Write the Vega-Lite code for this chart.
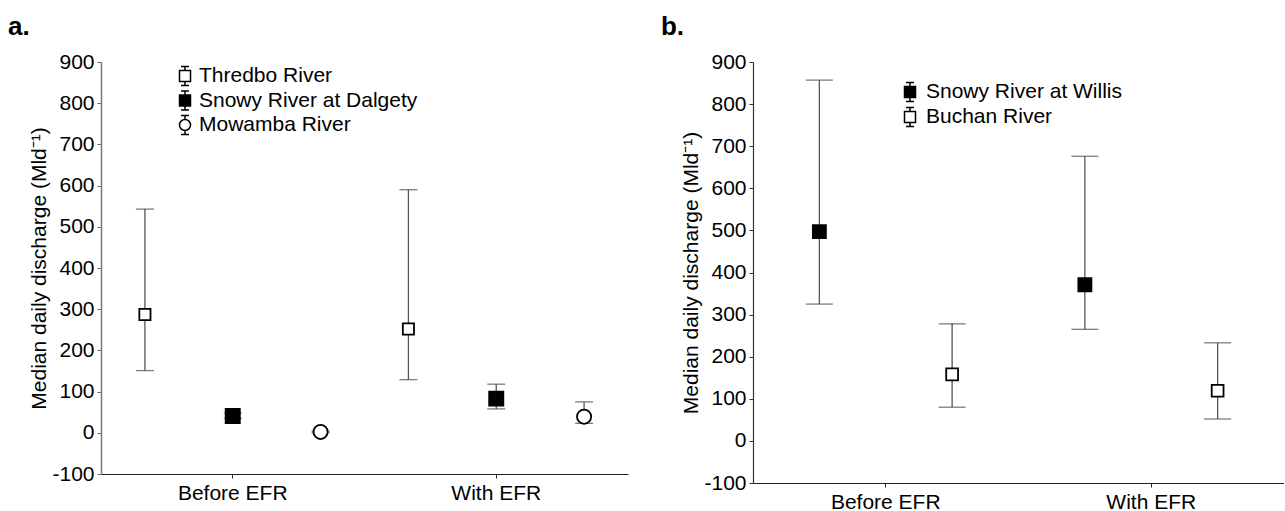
{
  "$schema": "https://vega.github.io/schema/vega-lite/v6.json",
  "padding": {"left": 7, "top": 14, "right": 0, "bottom": 0},
  "spacing": 32,
  "config": {
    "font": "Liberation Sans",
    "view": {"stroke": null},
    "axis": {
      "labelFont": "Liberation Sans", "labelFontSize": 21, "labelColor": "black",
      "titleFont": "Liberation Sans", "titleFontSize": 21, "titleFontWeight": "normal", "titleColor": "black",
      "grid": false, "tickSize": 4, "labelPadding": 3, "tickColor": "#666", "domainColor": "#777", "domainWidth": 1.5
    },
    "title": {"font": "Liberation Sans", "fontSize": 26, "fontWeight": "bold", "anchor": "start", "color": "black"}
  },
  "resolve": {
    "scale": {"shape": "independent", "fill": "independent", "stroke": "independent", "xOffset": "independent"},
    "legend": {"shape": "independent", "fill": "independent", "stroke": "independent"}
  },
  "hconcat": [
    {
      "width": 527, "height": 412,
      "title": {"text": "a.", "dx": -21, "offset": 11},
      "data": {"values": [
        {"period": "Before EFR", "river": "Thredbo River", "median": 287, "lo": 151, "hi": 543},
        {"period": "Before EFR", "river": "Snowy River at Dalgety", "median": 41, "lo": 35, "hi": 48},
        {"period": "Before EFR", "river": "Mowamba River", "median": 2, "lo": 0, "hi": 4},
        {"period": "With EFR", "river": "Thredbo River", "median": 252, "lo": 129, "hi": 590},
        {"period": "With EFR", "river": "Snowy River at Dalgety", "median": 83, "lo": 58, "hi": 118},
        {"period": "With EFR", "river": "Mowamba River", "median": 39, "lo": 23, "hi": 75}
      ]},
      "encoding": {
        "x": {"field": "period", "type": "nominal",
          "scale": {"domain": ["Before EFR", "With EFR"], "paddingInner": 0, "paddingOuter": 0},
          "axis": {"title": null, "labelAngle": 0, "labelPadding": 4, "domainColor": "#222", "tickColor": "#222", "domainWidth": 1.2}},
        "xOffset": {"field": "river", "type": "nominal",
          "scale": {"domain": ["Thredbo River", "Snowy River at Dalgety", "Mowamba River"], "paddingInner": 0, "paddingOuter": 0}}
      },
      "layer": [
        {
          "mark": {"type": "rule", "color": "#555", "strokeWidth": 1.3},
          "encoding": {
            "y": {"field": "lo", "type": "quantitative", "title": "Median daily discharge (Mld⁻¹)",
              "scale": {"domain": [-100, 900], "nice": false, "zero": false},
              "axis": {"values": [-100, 0, 100, 200, 300, 400, 500, 600, 700, 800, 900], "titlePadding": 2,
                "labelExpr": "replace(datum.label, '−', '-')"}},
            "y2": {"field": "hi"}
          }
        },
        {
          "mark": {"type": "tick", "color": "#444", "size": 18, "thickness": 1.3},
          "encoding": {"y": {"field": "lo", "type": "quantitative", "title": "Median daily discharge (Mld⁻¹)"}}
        },
        {
          "mark": {"type": "tick", "color": "#444", "size": 18, "thickness": 1.3},
          "encoding": {"y": {"field": "hi", "type": "quantitative", "title": "Median daily discharge (Mld⁻¹)"}}
        },
        {
          "mark": {"type": "point", "filled": true, "stroke": "black", "strokeWidth": 1.8, "opacity": 1},
          "encoding": {
            "y": {"field": "median", "type": "quantitative", "title": "Median daily discharge (Mld⁻¹)"},
            "shape": {"condition": {"test": "datum.river === 'Mowamba River'", "value": "circle"}, "value": "square"},
            "fill": {"condition": {"test": "datum.river === 'Snowy River at Dalgety'", "value": "black"}, "value": "white"},
            "size": {"condition": {"test": "datum.river === 'Thredbo River'", "value": 125}, "value": 200}
          }
        },
        {
          "mark": {"type": "point", "filled": false, "strokeWidth": 1.5, "opacity": 0},
          "encoding": {
            "y": {"field": "median", "type": "quantitative", "title": "Median daily discharge (Mld⁻¹)"},
            "shape": {"field": "river", "type": "nominal",
              "scale": {"domain": ["Thredbo River", "Snowy River at Dalgety", "Mowamba River"],
                "range": [
                  "M-0.4,-0.95L0.4,-0.95M0,-0.95L0,-0.55M-0.55,-0.55L0.55,-0.55L0.55,0.55L-0.55,0.55ZM0,0.55L0,0.95M-0.4,0.95L0.4,0.95",
                  "M-0.4,-0.95L0.4,-0.95M0,-0.95L0,-0.55M-0.55,-0.55L0.55,-0.55L0.55,0.55L-0.55,0.55ZM0,0.55L0,0.95M-0.4,0.95L0.4,0.95",
                  "M-0.4,-0.95L0.4,-0.95M0,-0.95L0,-0.55M-0.55,0A0.55,0.55,0,1,0,0.55,0A0.55,0.55,0,1,0,-0.55,0ZM0,0.55L0,0.95M-0.4,0.95L0.4,0.95"
                ]},
              "legend": {
                "title": null, "orient": "none", "legendX": 73, "legendY": 3, "padding": 0,
                "symbolSize": 400, "labelFont": "Liberation Sans", "labelFontSize": 21, "labelColor": "black",
                "labelLimit": 400, "labelOffset": 3, "rowPadding": -1.5,
                "symbolStrokeColor": "black", "symbolStrokeWidth": 1.5, "symbolOpacity": 1
              }},
            "fill": {"field": "river", "type": "nominal",
              "scale": {"domain": ["Thredbo River", "Snowy River at Dalgety", "Mowamba River"], "range": ["white", "black", "white"]},
              "legend": {
                "title": null, "orient": "none", "legendX": 73, "legendY": 3, "padding": 0,
                "symbolSize": 400, "labelFont": "Liberation Sans", "labelFontSize": 21, "labelColor": "black",
                "labelLimit": 400, "labelOffset": 3, "rowPadding": -1.5,
                "symbolStrokeColor": "black", "symbolStrokeWidth": 1.5, "symbolOpacity": 1
              }},
            "stroke": {"field": "river", "type": "nominal",
              "scale": {"domain": ["Thredbo River", "Snowy River at Dalgety", "Mowamba River"], "range": ["black", "black", "black"]},
              "legend": {
                "title": null, "orient": "none", "legendX": 73, "legendY": 3, "padding": 0,
                "symbolSize": 400, "labelFont": "Liberation Sans", "labelFontSize": 21, "labelColor": "black",
                "labelLimit": 400, "labelOffset": 3, "rowPadding": -1.5,
                "symbolStrokeColor": "black", "symbolStrokeWidth": 1.5, "symbolOpacity": 1
              }}
          }
        }
      ]
    },
    {
      "width": 531, "height": 421,
      "title": {"text": "b.", "dx": -20, "offset": 11},
      "data": {"values": [
        {"period": "Before EFR", "river": "Snowy River at Willis", "median": 497, "lo": 325, "hi": 857},
        {"period": "Before EFR", "river": "Buchan River", "median": 158, "lo": 80, "hi": 278},
        {"period": "With EFR", "river": "Snowy River at Willis", "median": 371, "lo": 265, "hi": 676},
        {"period": "With EFR", "river": "Buchan River", "median": 119, "lo": 52, "hi": 233}
      ]},
      "encoding": {
        "x": {"field": "period", "type": "nominal",
          "scale": {"domain": ["Before EFR", "With EFR"], "paddingInner": 0, "paddingOuter": 0},
          "axis": {"title": null, "labelAngle": 0, "labelPadding": 4, "domainColor": "#222", "tickColor": "#222", "domainWidth": 1.2}},
        "xOffset": {"field": "river", "type": "nominal",
          "scale": {"domain": ["Snowy River at Willis", "Buchan River"], "paddingInner": 0, "paddingOuter": 0}}
      },
      "layer": [
        {
          "mark": {"type": "rule", "color": "#555", "strokeWidth": 1.3},
          "encoding": {
            "y": {"field": "lo", "type": "quantitative", "title": "Median daily discharge (Mld⁻¹)",
              "scale": {"domain": [-100, 900], "nice": false, "zero": false},
              "axis": {"values": [-100, 0, 100, 200, 300, 400, 500, 600, 700, 800, 900], "titlePadding": 2,
                "labelExpr": "replace(datum.label, '−', '-')", "domainColor": "#333", "tickColor": "#333", "domainWidth": 1.2}},
            "y2": {"field": "hi"}
          }
        },
        {
          "mark": {"type": "tick", "color": "#444", "size": 27, "thickness": 1.3},
          "encoding": {"y": {"field": "lo", "type": "quantitative", "title": "Median daily discharge (Mld⁻¹)"}}
        },
        {
          "mark": {"type": "tick", "color": "#444", "size": 27, "thickness": 1.3},
          "encoding": {"y": {"field": "hi", "type": "quantitative", "title": "Median daily discharge (Mld⁻¹)"}}
        },
        {
          "mark": {"type": "point", "filled": true, "shape": "square", "stroke": "black", "strokeWidth": 1.8, "opacity": 1},
          "encoding": {
            "y": {"field": "median", "type": "quantitative", "title": "Median daily discharge (Mld⁻¹)"},
            "fill": {"condition": {"test": "datum.river === 'Snowy River at Willis'", "value": "black"}, "value": "white"},
            "size": {"condition": {"test": "datum.river === 'Snowy River at Willis'", "value": 170}, "value": 140}
          }
        },
        {
          "mark": {"type": "point", "filled": false, "strokeWidth": 1.5, "opacity": 0},
          "encoding": {
            "y": {"field": "median", "type": "quantitative", "title": "Median daily discharge (Mld⁻¹)"},
            "shape": {"field": "river", "type": "nominal",
              "scale": {"domain": ["Snowy River at Willis", "Buchan River"],
                "range": [
                  "M-0.4,-0.95L0.4,-0.95M0,-0.95L0,-0.55M-0.55,-0.55L0.55,-0.55L0.55,0.55L-0.55,0.55ZM0,0.55L0,0.95M-0.4,0.95L0.4,0.95",
                  "M-0.4,-0.95L0.4,-0.95M0,-0.95L0,-0.55M-0.55,-0.55L0.55,-0.55L0.55,0.55L-0.55,0.55ZM0,0.55L0,0.95M-0.4,0.95L0.4,0.95"
                ]},
              "legend": {
                "title": null, "orient": "none", "legendX": 146, "legendY": 19, "padding": 0,
                "symbolSize": 400, "labelFont": "Liberation Sans", "labelFontSize": 21, "labelColor": "black",
                "labelLimit": 400, "labelOffset": 5, "rowPadding": -1,
                "symbolStrokeColor": "black", "symbolStrokeWidth": 1.5, "symbolOpacity": 1
              }},
            "fill": {"field": "river", "type": "nominal",
              "scale": {"domain": ["Snowy River at Willis", "Buchan River"], "range": ["black", "white"]},
              "legend": {
                "title": null, "orient": "none", "legendX": 146, "legendY": 19, "padding": 0,
                "symbolSize": 400, "labelFont": "Liberation Sans", "labelFontSize": 21, "labelColor": "black",
                "labelLimit": 400, "labelOffset": 5, "rowPadding": -1,
                "symbolStrokeColor": "black", "symbolStrokeWidth": 1.5, "symbolOpacity": 1
              }},
            "stroke": {"field": "river", "type": "nominal",
              "scale": {"domain": ["Snowy River at Willis", "Buchan River"], "range": ["black", "black"]},
              "legend": {
                "title": null, "orient": "none", "legendX": 146, "legendY": 19, "padding": 0,
                "symbolSize": 400, "labelFont": "Liberation Sans", "labelFontSize": 21, "labelColor": "black",
                "labelLimit": 400, "labelOffset": 5, "rowPadding": -1,
                "symbolStrokeColor": "black", "symbolStrokeWidth": 1.5, "symbolOpacity": 1
              }}
          }
        }
      ]
    }
  ]
}
